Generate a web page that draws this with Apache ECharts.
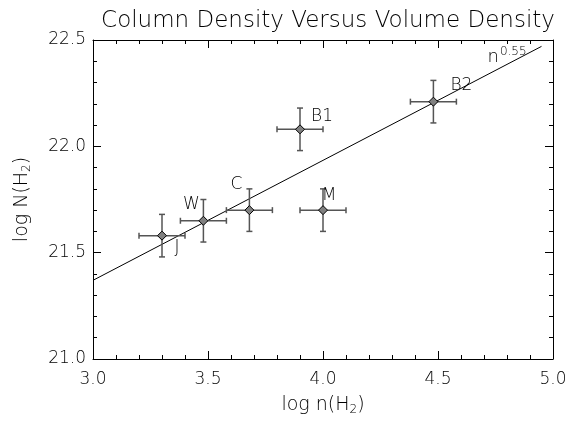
<!DOCTYPE html>
<html>
<head>
<meta charset="utf-8">
<script src="https://cdn.jsdelivr.net/npm/echarts@6/dist/echarts.min.js"></script>
<style>
  html, body { margin: 0; padding: 0; background: #fff; }
  #chart { width: 573px; height: 421px; }
</style>
</head>
<body>
<div id="chart"></div>
<script>
// regions and their measured values
const names = ['J', 'W', 'C', 'B1', 'M', 'B2']
const logVolume = [3.30, 3.48, 3.68, 3.90, 4.00, 4.48]
const logColumn = [21.58, 21.65, 21.70, 22.08, 21.70, 22.21]
const volumeErr = [0.1, 0.1, 0.1, 0.1, 0.1, 0.1]
const columnErr = [0.1, 0.1, 0.1, 0.1, 0.1, 0.1]

// power-law fit n^0.55, drawn end to end
const fitX = [3.0, 4.95]
const fitY = [21.37, 22.47]

const xTicks = ['3.0', '3.5', '4.0', '4.5', '5.0']
const yTicks = ['21.0', '21.5', '22.0', '22.5']

// where each region label sits relative to its point (px)
const labelOffsets = {
  J: [15, 12], W: [-12, -16], C: [-13, -26], B1: [22, -13], M: [6, -15], B2: [28, -16]
}

const FONT = 'DejaVu Sans'
const WEIGHT = 200
const INK = '#000'

const chart = echarts.init(document.getElementById('chart'))

function axisBase(extra) {
  return Object.assign({
    type: 'value',
    interval: 0.5,
    axisLine: { show: true, lineStyle: { color: '#000', width: 1 } },
    axisTick: { show: true, inside: true, length: 8, lineStyle: { color: '#000' } },
    minorTick: { show: true, splitNumber: 5, length: 4, lineStyle: { color: '#000' } },
    splitLine: { show: false },
    axisLabel: { show: false }
  }, extra)
}

const nameStyle = {
  fontFamily: FONT, fontSize: 19, fontWeight: WEIGHT, color: INK,
  rich: {
    sub: { fontFamily: FONT, fontSize: 12, fontWeight: WEIGHT, color: INK, verticalAlign: 'bottom', padding: [9, 0, 0, 0] }
  }
}

const points = names.map((n, i) => ({
  name: n,
  value: [logVolume[i], logColumn[i]],
  label: { offset: labelOffsets[n] }
}))

const errData = names.map((n, i) => [logVolume[i], logColumn[i], volumeErr[i], columnErr[i]])

function renderErr(params, api) {
  const x = api.value(0), y = api.value(1), dx = api.value(2), dy = api.value(3)
  const l = api.coord([x - dx, y]), r = api.coord([x + dx, y])
  const t = api.coord([x, y + dy]), b = api.coord([x, y - dy])
  const cap = 3
  const style = { stroke: '#555', lineWidth: 1.5 }
  const seg = (x1, y1, x2, y2) => ({ type: 'line', shape: { x1, y1, x2, y2 }, style })
  return {
    type: 'group',
    children: [
      seg(l[0], l[1], r[0], r[1]),
      seg(l[0], l[1] - cap, l[0], l[1] + cap),
      seg(r[0], r[1] - cap, r[0], r[1] + cap),
      seg(t[0], t[1], b[0], b[1]),
      seg(t[0] - cap, t[1], t[0] + cap, t[1]),
      seg(b[0] - cap, b[1], b[0] + cap, b[1])
    ]
  }
}

chart.setOption({
  animation: false,
  title: {
    text: 'Column Density Versus Volume Density',
    left: 323,
    textAlign: 'center',
    top: 5,
    textStyle: { fontFamily: FONT, fontSize: 23, fontWeight: WEIGHT, color: INK }
  },
  grid: { left: 93, right: 20, top: 40, bottom: 56 },
  xAxis: [
    axisBase({
      min: 3, max: 5, position: 'bottom',
      name: 'log n(H{sub|2})',
      nameLocation: 'middle',
      nameGap: 36,
      nameTextStyle: nameStyle,
      axisLabel: {
        show: true, margin: 12, fontFamily: FONT, fontSize: 17, fontWeight: WEIGHT, color: INK,
        formatter: v => xTicks[Math.round((v - 3) / 0.5)]
      }
    }),
    axisBase({ min: 3, max: 5, position: 'top' })
  ],
  yAxis: [
    axisBase({
      min: 21, max: 22.5, position: 'left',
      name: 'log N(H{sub|2})',
      nameLocation: 'middle',
      nameGap: 60,
      nameTextStyle: nameStyle,
      axisLabel: {
        show: true, margin: 7, fontFamily: FONT, fontSize: 17, fontWeight: WEIGHT, color: INK,
        formatter: v => yTicks[Math.round((v - 21) / 0.5)]
      }
    }),
    axisBase({ min: 21, max: 22.5, position: 'right' })
  ],
  series: [
    {
      type: 'line',
      data: fitX.map((x, i) => [x, fitY[i]]),
      showSymbol: false,
      lineStyle: { color: '#000', width: 1 },
      endLabel: {
        show: true,
        formatter: '{n|n}{sup|0.55}',
        offset: [-62, 11],
        rich: {
          n: { fontFamily: FONT, fontSize: 18, fontWeight: WEIGHT, color: INK },
          sup: { fontFamily: FONT, fontSize: 12, fontWeight: WEIGHT, color: INK, verticalAlign: 'top', padding: [0, 0, 12, 1] }
        }
      },
      z: 2
    },
    {
      type: 'custom',
      data: errData,
      renderItem: renderErr,
      z: 3
    },
    {
      type: 'scatter',
      data: points,
      symbol: 'diamond',
      symbolSize: 9,
      itemStyle: { color: '#808080', borderColor: '#000', borderWidth: 1, opacity: 1 },
      label: {
        show: true,
        position: 'inside',
        formatter: '{b}',
        fontFamily: FONT,
        fontSize: 17,
        fontWeight: WEIGHT,
        color: INK
      },
      z: 4
    }
  ]
})
</script>
</body>
</html>
